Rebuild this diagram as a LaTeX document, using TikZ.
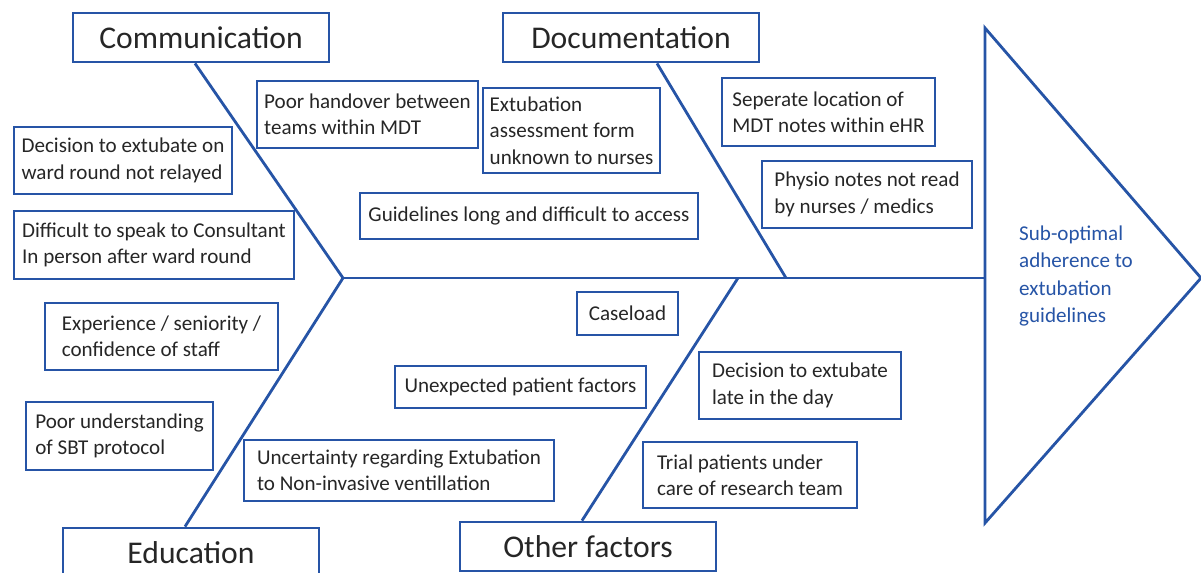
\documentclass[tikz,border=0pt]{standalone}
\usepackage{fontspec}
\setmainfont{Carlito}
\usepackage{tikz}
\usetikzlibrary{positioning,calc}
\definecolor{fishblue}{RGB}{38,84,166}
\tikzset{
category/.style={
draw=fishblue,
line width=1.6pt,
minimum width=5.12cm,
minimum height=0.98cm,
inner sep=0pt,
font=\fontsize{18}{21}\selectfont,
text=black!85
},
cause/.style={
draw=fishblue,
line width=1.6pt,
align=left,
inner sep=2pt,
font=\fontsize{12}{15}\selectfont,
text=black!85
},
bone/.style={
draw=fishblue,
line width=1.6pt
}
}

\begin{document}
\begin{tikzpicture}[x=0.02cm,y=-0.02cm]
\useasboundingbox (0,0) rectangle (1201,572);

% categories
\node[category](comm) at (201,37.5){Communication};
\node[category](doc) at (631,37.5){Documentation};
\node[category](edu) at (191,552.5){Education};
\node[category](other) at (588,546.5){Other factors};

% spine and head
\coordinate (tail) at (343,278);
\coordinate (docjoin) at (786,278);
\coordinate (otherjoin) at (738,278);
\coordinate (head) at (985,278);
\draw[bone](985,28)--(1201,278)--(985,523)--cycle;
\draw[bone](tail)--(head);
\node[anchor=west,align=left,text=fishblue,font=\fontsize{12}{15.5}\selectfont](effect) at (1013,276)
{Sub-optimal\\adherence to\\extubation\\guidelines};

% bones
\draw[bone](comm.south)++(-6,0)--(tail);
\draw[bone](edu.north)++(-6,0)--(tail);
\draw[bone](doc.south)++(26,0)--(docjoin);
\draw[bone](other.north)++(-6,0)--(otherjoin);

% causes
\node[cause,minimum width=4.42cm,minimum height=1.34cm](handover) at (367.5,114.5){Poor handover between\\teams within MDT};
\node[cause,minimum width=3.54cm,minimum height=1.70cm](form) at (571.5,130.5){Extubation\\assessment form\\unknown to nurses};
\node[cause,minimum width=4.26cm,minimum height=1.36cm](location) at (828.5,112){Seperate location of\\MDT notes within eHR};
\node[cause,minimum width=4.20cm,minimum height=1.34cm](physio) at (867,194.5){Physio notes not read\\by nurses / medics};
\node[cause,minimum width=6.76cm,minimum height=0.92cm](guidelines) at (529,216){Guidelines long and difficult to access};
\node[cause,minimum width=4.36cm,minimum height=1.34cm](relayed) at (123,160.5){Decision to extubate on\\ward round not relayed};
\node[cause,minimum width=5.60cm,minimum height=1.36cm](consultant) at (154,245){Difficult to speak to Consultant\\In person after ward round};
\node[cause,minimum width=4.66cm,minimum height=1.34cm](experience) at (161.5,336.5){Experience / seniority /\\confidence of staff};
\node[cause,minimum width=3.74cm,minimum height=1.36cm](sbt) at (119.5,436){Poor understanding\\of SBT protocol};
\node[cause,minimum width=6.20cm,minimum height=1.22cm](niv) at (399,470.5){Uncertainty regarding Extubation\\to Non-invasive ventillation};
\node[cause,minimum width=2.02cm,minimum height=0.86cm](caseload) at (627.5,313.5){Caseload};
\node[cause,minimum width=5.02cm,minimum height=0.84cm](unexpected) at (520.5,387){Unexpected patient factors};
\node[cause,minimum width=4.04cm,minimum height=1.34cm](late) at (800,385.5){Decision to extubate\\late in the day};
\node[cause,minimum width=4.28cm,minimum height=1.32cm](trial) at (750,475){Trial patients under\\care of research team};
\end{tikzpicture}
\end{document}
